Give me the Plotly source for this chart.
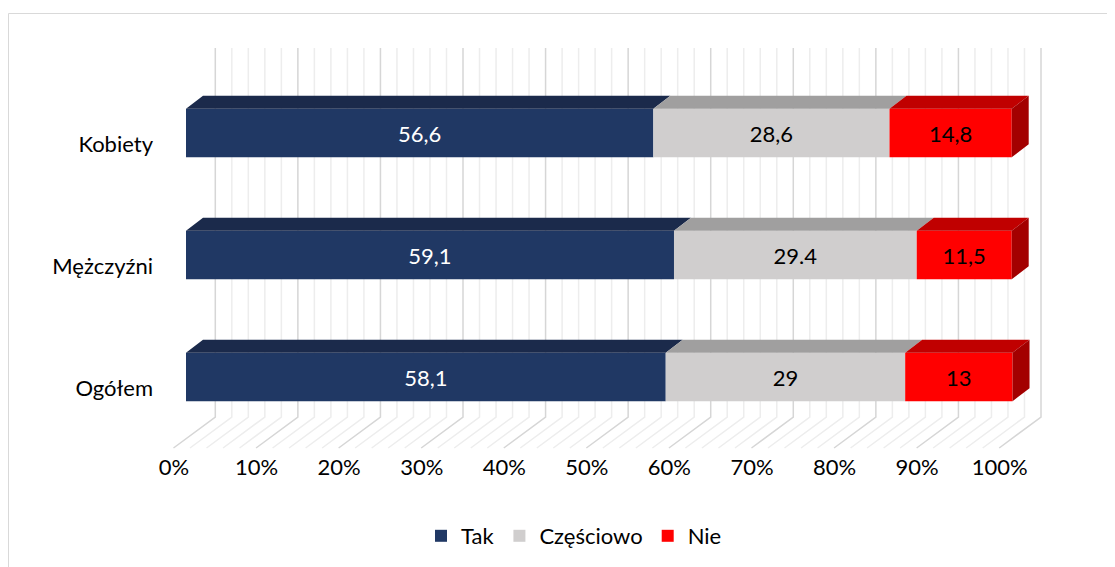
#!/usr/bin/env python3
# -*- coding:utf-8 -*-

import plotly.graph_objects as go


CATEGORIES        = ['Kobiety', 'Mężczyźni', 'Ogółem']
SERIES_NAMES      = ['Tak', 'Częściowo', 'Nie']
TAK_VALUES        = [56.6, 59.1, 58.1]
CZESCIOWO_VALUES  = [28.6, 29.4, 29.0]
NIE_VALUES        = [14.8, 11.5, 13.0]
TAK_LABELS        = ['56,6', '59,1', '58,1']
CZESCIOWO_LABELS  = ['28,6', '29.4', '29']
NIE_LABELS        = ['14,8', '11,5', '13']
X_TICKS           = [0, 10, 20, 30, 40, 50, 60, 70, 80, 90, 100]
X_TICK_LABELS     = ['0%', '10%', '20%', '30%', '40%', '50%', '60%', '70%', '80%', '90%', '100%']
MINOR_STEP        = 2


# everything below is in screen pixels of the final page (the page body adds an 8px margin)
PAGE_OFF       = 8
FIG_W, FIG_H   = 1115, 567
PLOT_L, PLOT_R = 160, 1080
PLOT_T, PLOT_B = 8, 450
ZERO_PX        = 186.0
PX_PER_PCT     = 8.257
ROW_Y          = [133, 255, 377]
BAR_H          = 48.5
DEPTH_DX       = 17 / PX_PER_PCT
DEPTH_DY       = 13
WALL_DX        = 29.3 / PX_PER_PCT
FLOOR_DX       = -12.5 / PX_PER_PCT
FLOOR_FRONT_Y  = 448
FLOOR_BACK_Y   = 417
WALL_TOP_Y     = 48

FONT = 'Lato'
FONT_SIZE = 22

SERIES_STYLE = [
	{ 'front': '#203864', 'top': '#1b2a4b', 'text': '#ffffff' },
	{ 'front': '#d0cece', 'top': '#a09f9f', 'text': '#000000' },
	{ 'front': '#ff0000', 'top': '#c00000', 'text': '#000000' },
]
SIDE_COLOR = '#a30000'


def GridShape(ticks, color, width) -> dict:
	path = ''
	for t in ticks:
		path += 'M{},{} L{},{} L{},{} '.format(
			t + FLOOR_DX, FLOOR_FRONT_Y,
			t + WALL_DX, FLOOR_BACK_Y,
			t + WALL_DX, WALL_TOP_Y,
		)
	return dict(
		type='path', xref='x', yref='y', path=path.strip(), layer='below',
		line=dict(color=color, width=width),
	)


def FaceTrace(xs, ys, color) -> go.Scatter:
	return go.Scatter(
		x=xs, y=ys, mode='lines', fill='toself', fillcolor=color,
		line=dict(width=0, color=color),
		hoverinfo='skip', showlegend=False,
	)


def PaperX(px: float) -> float:
	return (px - PLOT_L) / (PLOT_R - PLOT_L)


def PaperY(py: float) -> float:
	return (PLOT_B - py) / (PLOT_B - PLOT_T)


def main() -> None:
	values = [ TAK_VALUES, CZESCIOWO_VALUES, NIE_VALUES ]
	labels = [ TAK_LABELS, CZESCIOWO_LABELS, NIE_LABELS ]

	fig = go.Figure()

	bases = [ 0.0 ] * len(CATEGORIES)
	topFaces = []
	sideXs, sideYs = [], []
	for sIdx, (name, vals, labs, style) in enumerate(zip(SERIES_NAMES, values, labels, SERIES_STYLE)):
		fig.add_trace(
			go.Bar(
				y=ROW_Y, x=vals, base=bases, orientation='h', width=BAR_H,
				name=name,
				marker=dict(color=style['front'], line=dict(width=0)),
				text=labs, textposition='inside', insidetextanchor='middle',
				textangle=0, constraintext='none',
				textfont=dict(family=FONT, size=FONT_SIZE, color=style['text']),
				hoverinfo='skip',
			)
		)
		xs, ys = [], []
		for b, v, yc in zip(bases, vals, ROW_Y):
			yTop = yc - BAR_H / 2
			xs += [ b, b + v, b + v + DEPTH_DX, b + DEPTH_DX, b, None ]
			ys += [ yTop, yTop, yTop - DEPTH_DY, yTop - DEPTH_DY, yTop, None ]
			if sIdx == len(SERIES_NAMES) - 1:
				xe = b + v
				sideXs += [ xe, xe + DEPTH_DX, xe + DEPTH_DX, xe, xe, None ]
				sideYs += [ yTop, yTop - DEPTH_DY, yTop - DEPTH_DY + BAR_H, yTop + BAR_H, yTop, None ]
		topFaces.append(FaceTrace(xs, ys, style['top']))
		bases = [ b + v for b, v in zip(bases, vals) ]

	for t in topFaces:
		fig.add_trace(t)
	fig.add_trace(FaceTrace(sideXs, sideYs, SIDE_COLOR))

	allTicks = list(range(X_TICKS[0], X_TICKS[-1] + 1, MINOR_STEP))
	minorTicks = [ t for t in allTicks if t not in X_TICKS ]

	xMin = (PLOT_L - ZERO_PX) / PX_PER_PCT
	xMax = (PLOT_R - ZERO_PX) / PX_PER_PCT

	fig.update_layout(
		width=FIG_W, height=FIG_H,
		margin=dict(
			l=PLOT_L - PAGE_OFF, r=FIG_W - PLOT_R + PAGE_OFF,
			t=PLOT_T - PAGE_OFF, b=FIG_H - PLOT_B + PAGE_OFF,
		),
		paper_bgcolor='white', plot_bgcolor='white',
		barmode='overlay',
		font=dict(family=FONT, size=FONT_SIZE, color='#000000'),
		legend=dict(
			orientation='h',
			x=PaperX(574), xanchor='center',
			y=PaperY(536), yanchor='middle',
			font=dict(family=FONT, size=FONT_SIZE, color='#000000'),
			itemwidth=30,
		),
		shapes=[
			GridShape(minorTicks, '#ededed', 1.5),
			GridShape(X_TICKS, '#d6d6d6', 1.5),
			dict(type='line', xref='paper', yref='paper',
				x0=PaperX(8.5), x1=PaperX(FIG_W + 20),
				y0=PaperY(13.5), y1=PaperY(13.5),
				line=dict(color='#d9d9d9', width=1)),
			dict(type='line', xref='paper', yref='paper',
				x0=PaperX(8.5), x1=PaperX(8.5),
				y0=PaperY(13.5), y1=PaperY(FIG_H + 20),
				line=dict(color='#d9d9d9', width=1)),
		],
	)
	fig.update_xaxes(
		range=[xMin, xMax], showgrid=False, zeroline=False, showline=False,
		tickvals=X_TICKS, ticktext=X_TICK_LABELS, ticks='',
		ticklabelshift=-12, ticklabelstandoff=2,
		fixedrange=True,
	)
	fig.update_yaxes(
		range=[PLOT_B, PLOT_T], showgrid=False, zeroline=False, showline=False,
		tickvals=[ y + 11.5 for y in ROW_Y ], ticktext=CATEGORIES, ticks='',
		ticklabelstandoff=6,
		fixedrange=True,
	)

	fig.write_html('out.html')


if __name__ == '__main__':
	main()
